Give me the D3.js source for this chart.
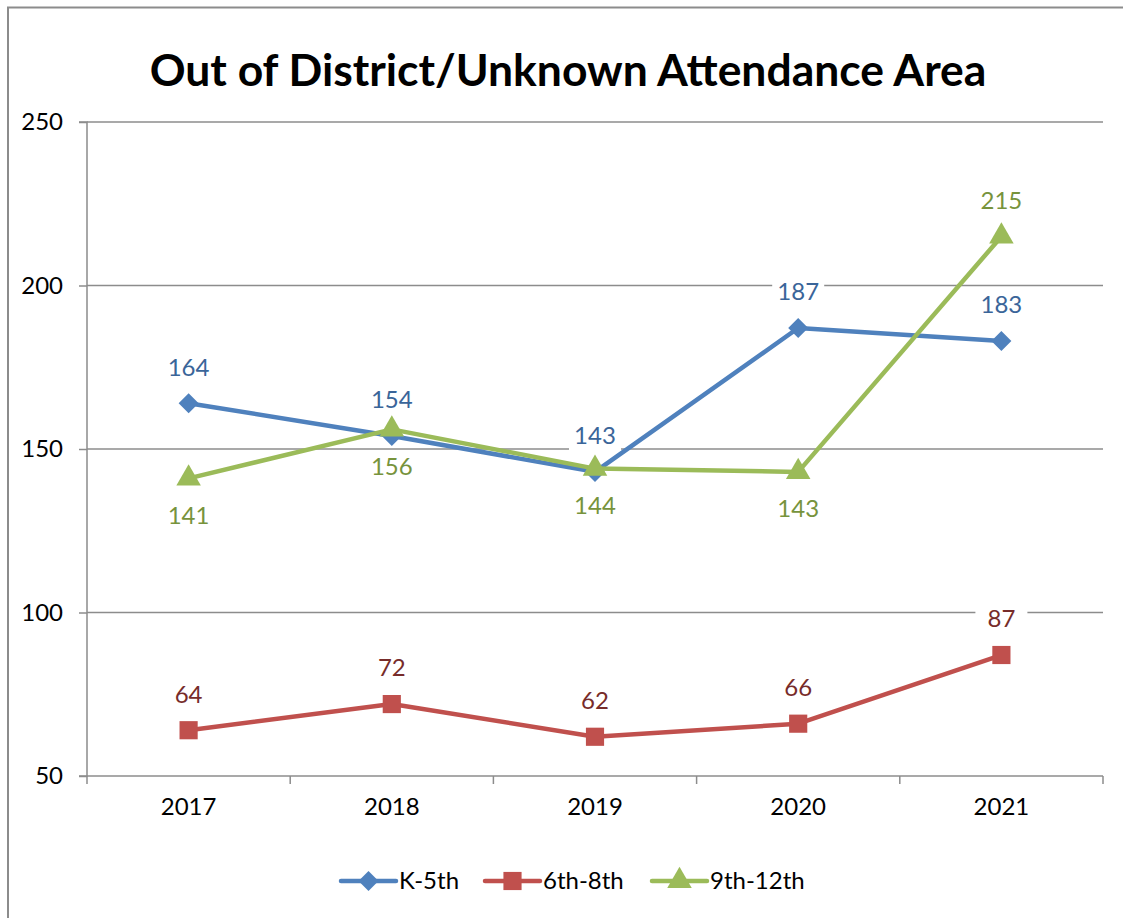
<!DOCTYPE html>
<html><head><meta charset="utf-8">
<script src="https://cdn.jsdelivr.net/npm/d3@7/dist/d3.min.js"></script>
<style>body{margin:0;background:#fff}svg{display:block}text{font-family:Lato,"Open Sans",sans-serif}</style>
</head><body><svg id="c" width="1123" height="918"></svg>
<script>
const title = "Out of District/Unknown Attendance Area";
const categories = ["2017","2018","2019","2020","2021"];
const seriesNames = ["K-5th","6th-8th","9th-12th"];
const k5 = [164,154,143,187,183];
const g68 = [64,72,62,66,87];
const g912 = [141,156,144,143,215];
const yTicks = [50,100,150,200,250];
const labelPos = [["above","above","above","above","above"],["above","above","above","above","above"],["below","below","below","below","above"]];
const lineColors = ["#4F81BD","#C0504D","#9BBB59"];
const labelColors = ["#3A6599","#772C2A","#77933C"];
const markers = [d3.symbolSquare, d3.symbolSquare, d3.symbolTriangle];
const markerRot = [45, 0, 0];
const markerSizes = [200, 330, 260];
const series = [k5,g68,g912];
const fs = 24;

const svg = d3.select("#c");
const m = {l:87, r:1103, t:122, b:776};
const x = d3.scaleBand().domain(categories).range([m.l,m.r]).padding(0);
const y = d3.scaleLinear().domain([50,250]).range([m.b,m.t]);
const gridColor = "#8c8c8c";

// chart border
svg.append("rect").attr("x",8).attr("y",7.5).attr("width",1130).attr("height",930)
  .attr("fill","none").attr("stroke","#8c8c8c").attr("stroke-width",2);

// title
const t = svg.append("text").attr("x",568).attr("y",86).attr("text-anchor","middle")
  .attr("font-weight","bold").attr("font-size",40).attr("fill","#000").text(title);
const tw = t.node().getComputedTextLength();
t.attr("font-size", 40*837/tw);

// gridlines
svg.append("g").selectAll("line").data(yTicks.slice(1)).join("line")
  .attr("x1",m.l).attr("x2",m.r).attr("y1",d=>y(d)).attr("y2",d=>y(d))
  .attr("stroke",gridColor).attr("stroke-width",1.5);

// y axis
const ya = svg.append("g").attr("transform",`translate(${m.l},0)`)
  .call(d3.axisLeft(y).tickValues(yTicks).tickSize(8).tickPadding(16));
ya.select(".domain").attr("stroke",gridColor).attr("stroke-width",1.5).attr("d",`M-8,${m.t}H0V${m.b}H-8`);
ya.selectAll(".tick line").attr("stroke",gridColor).attr("stroke-width",1.5);
ya.selectAll(".tick text").attr("font-size",fs).attr("fill","#000").attr("font-family","Lato,sans-serif");

// x axis
const xa = svg.append("g").attr("transform",`translate(0,${m.b})`)
  .call(d3.axisBottom(x).tickSize(0).tickPadding(22));
xa.select(".domain").attr("stroke",gridColor).attr("stroke-width",1.5).attr("d",`M${m.l},0H${m.r}`);
xa.selectAll(".tick text").attr("font-size",fs).attr("fill","#000").attr("font-family","Lato,sans-serif");
const bounds = categories.map(c=>x(c)).concat([m.r]);
xa.append("g").selectAll("line").data(bounds).join("line")
  .attr("x1",d=>d).attr("x2",d=>d).attr("y1",0).attr("y2",8)
  .attr("stroke",gridColor).attr("stroke-width",1.5);

const cx = c => x(c) + x.bandwidth()/2;
const line = d3.line().x((d,i)=>cx(categories[i])).y(d=>y(d));

// series lines and markers
series.forEach((s,si)=>{
  svg.append("path").datum(s).attr("d",line).attr("fill","none")
    .attr("stroke",lineColors[si]).attr("stroke-width",4.5).attr("stroke-linejoin","round");
});
series.forEach((s,si)=>{
  svg.append("g").selectAll("path").data(s).join("path")
    .attr("transform",(d,i)=>`translate(${cx(categories[i])},${y(d)}) rotate(${markerRot[si]})`)
    .attr("d",d3.symbol().type(markers[si]).size(markerSizes[si]))
    .attr("fill",lineColors[si]);
});

// data labels with white background
series.forEach((s,si)=>{
  const g = svg.append("g");
  s.forEach((d,i)=>{
    const above = labelPos[si][i]==="above";
    const yy = y(d) + (above ? -36 : 37);
    const px = cx(categories[i]);
    g.append("rect").attr("x",px-26).attr("y",yy-15).attr("width",52).attr("height",30).attr("fill","#fff");
    g.append("text").attr("x",px).attr("y",yy).attr("dy","0.35em").attr("text-anchor","middle")
      .attr("font-size",fs).attr("fill",labelColors[si]).text(d);
  });
});

// legend
const legX = [341, 485, 652];
const lg = svg.append("g");
seriesNames.forEach((n,i)=>{
  const lx = legX[i], ly = 881;
  lg.append("line").attr("x1",lx).attr("x2",lx+55).attr("y1",ly).attr("y2",ly)
    .attr("stroke",lineColors[i]).attr("stroke-width",4.5).attr("stroke-linecap","round");
  lg.append("path").attr("transform",`translate(${lx+27.5},${ly}) rotate(${markerRot[i]})`)
    .attr("d",d3.symbol().type(markers[i]).size(markerSizes[i])).attr("fill",lineColors[i]);
  lg.append("text").attr("x",lx+58).attr("y",ly).attr("dy","0.35em").attr("font-size",fs)
    .attr("fill","#000").text(n);
});
</script></body></html>
